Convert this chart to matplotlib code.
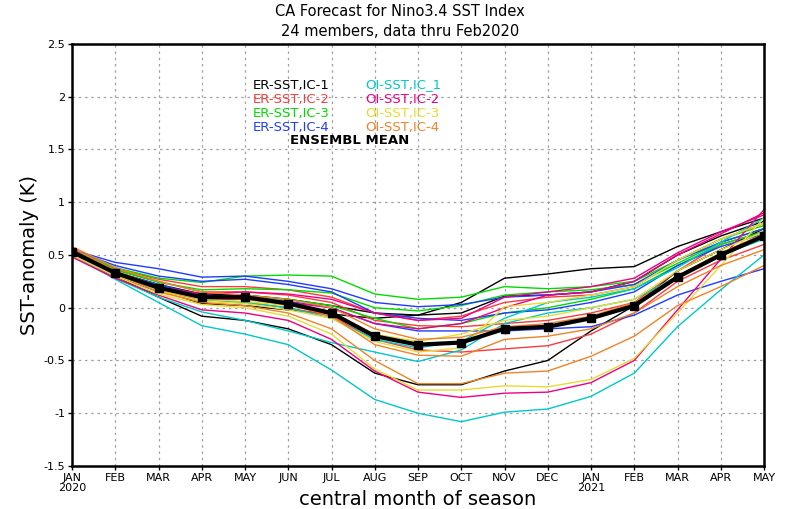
import matplotlib
matplotlib.use("Agg")
import matplotlib.pyplot as plt
import numpy as np

# months: Jan 2020 .. May 2021
months = ["JAN", "FEB", "MAR", "APR", "MAY", "JUN", "JUL", "AUG", "SEP",
          "OCT", "NOV", "DEC", "JAN", "FEB", "MAR", "APR", "MAY"]
year_labels = {0: "2020", 12: "2021"}

ensemble_mean = [0.53, 0.33, 0.19, 0.10, 0.10, 0.04, -0.05, -0.27, -0.35,
                 -0.33, -0.20, -0.18, -0.10, 0.02, 0.29, 0.50, 0.68]

# ER-SST, IC-1 (black)
er_ic1 = [
    [0.52, 0.34, 0.22, 0.13, 0.12, 0.08, 0.02, -0.05, -0.07, 0.05, 0.28, 0.32, 0.37, 0.39, 0.58, 0.72, 0.85],
    [0.52, 0.32, 0.17, 0.04, 0.02, -0.02, -0.06, -0.10, -0.07, -0.05, 0.11, 0.12, 0.15, 0.25, 0.50, 0.68, 0.82],
    [0.50, 0.30, 0.10, -0.08, -0.12, -0.20, -0.35, -0.62, -0.73, -0.73, -0.60, -0.50, -0.22, 0.02, 0.35, 0.55, 0.75],
]
# ER-SST, IC-2 (red)
er_ic2 = [
    [0.55, 0.37, 0.27, 0.20, 0.20, 0.17, 0.10, -0.05, -0.12, -0.08, 0.05, 0.10, 0.12, 0.20, 0.45, 0.65, 0.80],
    [0.55, 0.36, 0.25, 0.15, 0.15, 0.12, 0.05, -0.12, -0.17, -0.18, -0.15, -0.12, -0.05, 0.05, 0.35, 0.60, 0.72],
    [0.53, 0.33, 0.20, 0.08, 0.05, 0.00, -0.08, -0.30, -0.40, -0.42, -0.39, -0.36, -0.25, -0.05, 0.25, 0.45, 0.60],
]
# ER-SST, IC-3 (green)
er_ic3 = [
    [0.55, 0.38, 0.28, 0.24, 0.30, 0.31, 0.30, 0.13, 0.08, 0.10, 0.20, 0.18, 0.20, 0.25, 0.45, 0.65, 0.78],
    [0.55, 0.36, 0.24, 0.17, 0.18, 0.17, 0.14, 0.00, -0.03, 0.02, 0.12, 0.15, 0.17, 0.22, 0.42, 0.62, 0.75],
    [0.50, 0.31, 0.18, 0.10, 0.10, 0.08, 0.02, -0.10, -0.20, -0.15, -0.05, 0.00, 0.08, 0.18, 0.40, 0.60, 0.72],
]
# ER-SST, IC-4 (blue)
er_ic4 = [
    [0.55, 0.43, 0.37, 0.29, 0.30, 0.25, 0.18, 0.05, 0.01, 0.03, 0.10, 0.12, 0.15, 0.22, 0.45, 0.62, 0.75],
    [0.55, 0.40, 0.30, 0.25, 0.27, 0.22, 0.15, -0.05, -0.10, -0.12, -0.05, -0.02, 0.05, 0.15, 0.40, 0.58, 0.70],
    [0.52, 0.34, 0.22, 0.12, 0.10, 0.06, 0.00, -0.15, -0.22, -0.22, -0.22, -0.20, -0.18, -0.07, 0.12, 0.25, 0.37],
]
# OI-SST, IC_1 (cyan)
oi_ic1 = [
    [0.50, 0.27, 0.05, -0.17, -0.25, -0.35, -0.59, -0.87, -1.00, -1.08, -0.99, -0.96, -0.84, -0.62, -0.18, 0.17, 0.50],
    [0.50, 0.28, 0.10, -0.04, -0.12, -0.22, -0.33, -0.42, -0.51, -0.40, -0.15, -0.05, 0.00, 0.08, 0.30, 0.50, 0.65],
    [0.53, 0.30, 0.15, 0.08, 0.05, 0.00, -0.10, -0.30, -0.38, -0.32, -0.10, 0.05, 0.10, 0.18, 0.38, 0.62, 0.85],
]
# OI-SST, IC-2 (magenta)
oi_ic2 = [
    [0.48, 0.28, 0.12, -0.02, -0.05, -0.12, -0.30, -0.60, -0.80, -0.85, -0.81, -0.80, -0.71, -0.50, -0.02, 0.46, 0.93],
    [0.50, 0.30, 0.16, 0.08, 0.08, 0.05, 0.00, -0.15, -0.20, -0.15, 0.00, 0.12, 0.15, 0.25, 0.50, 0.70, 0.90],
    [0.52, 0.33, 0.20, 0.13, 0.15, 0.13, 0.08, -0.05, -0.12, -0.10, 0.10, 0.15, 0.20, 0.28, 0.52, 0.72, 0.88],
]
# OI-SST, IC-3 (yellow)
oi_ic3 = [
    [0.50, 0.30, 0.13, 0.03, 0.00, -0.08, -0.25, -0.58, -0.78, -0.78, -0.74, -0.75, -0.68, -0.48, -0.05, 0.40, 0.85],
    [0.50, 0.31, 0.16, 0.06, 0.04, -0.02, -0.10, -0.32, -0.42, -0.38, 0.01, 0.05, 0.12, 0.20, 0.45, 0.65, 0.80],
    [0.52, 0.32, 0.17, 0.08, 0.06, 0.02, -0.05, -0.25, -0.32, -0.25, -0.12, -0.08, 0.00, 0.08, 0.35, 0.55, 0.72],
]
# OI-SST, IC-4 (orange)
oi_ic4 = [
    [0.55, 0.33, 0.15, 0.05, 0.02, -0.05, -0.20, -0.50, -0.72, -0.72, -0.62, -0.60, -0.46, -0.27, 0.02, 0.20, 0.40],
    [0.57, 0.35, 0.20, 0.10, 0.08, 0.03, -0.08, -0.35, -0.45, -0.46, -0.30, -0.27, -0.20, -0.05, 0.20, 0.40, 0.55],
    [0.58, 0.38, 0.25, 0.15, 0.12, 0.08, 0.00, -0.20, -0.30, -0.28, -0.18, -0.15, -0.08, 0.05, 0.30, 0.52, 0.70],
]

groups = [er_ic1, er_ic2, er_ic3, er_ic4, oi_ic1, oi_ic2, oi_ic3, oi_ic4]
group_names = ["ER-SST,IC-1", "ER-SST,IC-2", "ER-SST,IC-3", "ER-SST,IC-4",
               "OI-SST,IC_1", "OI-SST,IC-2", "OI-SST,IC-3", "OI-SST,IC-4"]
colors = ["#000000", "#fa3c3c", "#00dc00", "#1e3cff",
          "#00c8c8", "#f00082", "#e6dc32", "#f08228"]

x = np.arange(len(months))

fig = plt.figure(figsize=(8, 5.09), dpi=100)
ax = fig.add_axes([0.09, 0.0845, 0.865, 0.8291])

grid_style = dict(color="#a0a0a0", linestyle=(0, (2, 3)), linewidth=0.9)
for xi in x[1:-1]:
    ax.axvline(xi, **grid_style, zorder=0)
for yv in np.arange(-1.0, 2.51, 0.5):
    ax.axhline(yv, **grid_style, zorder=0)

for members, c in zip(groups, colors):
    for m in members:
        ax.plot(x, m, color=c, linewidth=1.0, zorder=2)

ax.plot(x, ensemble_mean, color="black", linewidth=3, marker="s",
        markersize=6, zorder=4)

ax.set_xlim(0, len(months) - 1)
ax.set_ylim(-1.5, 2.5)
ax.set_xticks(x)
ax.set_xticklabels([m + ("\n" + year_labels[i] if i in year_labels else "")
                    for i, m in enumerate(months)], fontsize=8,
                   linespacing=0.95)
yt = np.arange(-1.5, 2.51, 0.5)
ax.set_yticks(yt)
ax.set_yticklabels(["%g" % v for v in yt], fontsize=8)
ax.tick_params(length=3, width=1, pad=2)
for s in ax.spines.values():
    s.set_linewidth(1.8)

ax.set_xlabel("central month of season", fontsize=14, va="center")
ax.xaxis.set_label_coords(0.5, -34 / 422)
ax.set_ylabel("SST-anomaly (K)", fontsize=14, va="center")
ax.yaxis.set_label_coords(-42 / 692, 0.5)

fig.text(0.5, 1 - 12 / 509, "CA Forecast for Nino3.4 SST Index", ha="center",
         va="center", fontsize=10.5)
fig.text(0.5, 1 - 31 / 509, "24 members, data thru Feb2020", ha="center",
         va="center", fontsize=10.5)

# legend drawn as coloured text
for i, (name, c) in enumerate(zip(group_names, colors)):
    col, row = divmod(i, 4)
    fig.text(0.316 + col * 0.14, 1 - (85 + row * 14) / 509, name, color=c,
             fontsize=9.5, va="center", ha="left")
fig.text(0.362, 1 - 141 / 509, "ENSEMBL MEAN", color="black", fontsize=9.5,
         fontweight="bold", va="center", ha="left")

fig.savefig("out.png", dpi=100)
